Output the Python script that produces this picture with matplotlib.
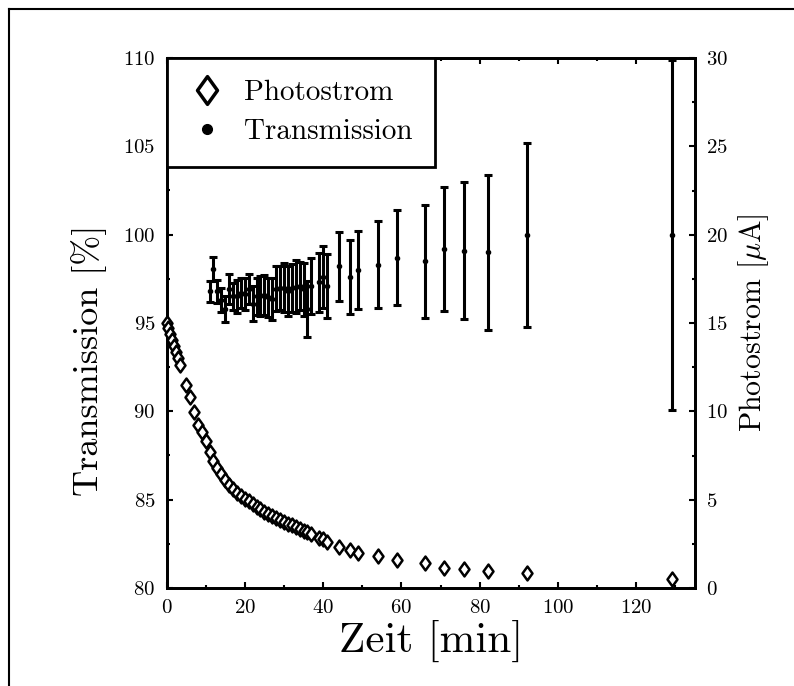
import matplotlib
matplotlib.use("Agg")
import matplotlib.pyplot as plt
from matplotlib.lines import Line2D
from matplotlib.path import Path
from matplotlib.ticker import MultipleLocator

plt.rcParams['font.family'] = 'serif'
plt.rcParams['font.serif'] = ['cmr10', 'DejaVu Serif']
plt.rcParams['mathtext.fontset'] = 'cm'
plt.rcParams['axes.unicode_minus'] = False
plt.rcParams['axes.formatter.use_mathtext'] = True

# Photostrom (diamonds, right axis, uA)
t_photo = [0, 0.5, 1, 1.5, 2, 2.5, 3, 3.5, 5, 6, 7, 8, 9, 10,
           11, 12, 13, 14, 15, 16, 17, 18, 19, 20, 21, 22, 23, 24, 25, 26,
           27, 28, 29, 30, 31, 32, 33, 34, 35, 36, 37, 39, 40, 41,
           44, 47, 49, 54, 59, 66, 71, 76, 82, 92, 129]
photostrom = [15.0, 14.7, 14.4, 14.05, 13.7, 13.35, 13.0, 12.6, 11.5, 10.8, 9.95, 9.25, 8.85, 8.3,
              7.7, 7.2, 6.8, 6.45, 6.1, 5.85, 5.6, 5.4, 5.2, 5.05, 4.9, 4.75, 4.6, 4.45, 4.3, 4.2,
              4.05, 3.95, 3.85, 3.75, 3.65, 3.55, 3.45, 3.35, 3.25, 3.15, 3.05, 2.85, 2.75, 2.6,
              2.3, 2.15, 2.0, 1.8, 1.6, 1.4, 1.15, 1.08, 0.97, 0.85, 0.5]

# Transmission (dots with error bars, left axis, %)
t_trans = [11, 12, 13, 14, 15, 16, 17, 18, 19, 20, 21, 22, 23, 24, 25, 26,
           27, 28, 29, 30, 31, 32, 33, 34, 35, 36, 37, 39, 40, 41,
           44, 47, 49, 54, 59, 66, 71, 76, 82, 92, 129]
transmission = [96.8, 98.05, 96.8, 96.3, 95.8, 96.9, 96.5, 96.5, 96.7, 96.65, 96.9, 96.1, 96.5, 96.55, 96.6, 96.45,
                96.35, 96.95, 97.0, 97.0, 96.8, 97.0, 97.05, 97.1, 96.9, 95.8, 97.1, 97.3, 97.6, 97.1,
                98.2, 97.6, 98.0, 98.3, 98.7, 98.5, 99.2, 99.1, 99.0, 100.0, 100.0]
trans_err = [0.6, 0.67, 0.66, 0.66, 0.75, 0.85, 0.74, 0.96, 0.84, 0.91, 0.85, 0.98, 1.07, 1.13, 1.12, 1.12,
             1.2, 1.27, 1.25, 1.4, 1.4, 1.35, 1.49, 1.35, 1.48, 1.58, 1.6, 1.65, 1.75, 1.8,
             1.95, 2.1, 2.2, 2.45, 2.7, 3.2, 3.5, 3.9, 4.4, 5.2, 9.9]

diamond = Path([(0, 1), (0.72, 0), (0, -1), (-0.72, 0), (0, 1)],
               [Path.MOVETO, Path.LINETO, Path.LINETO, Path.LINETO, Path.CLOSEPOLY])

fig = plt.figure(figsize=(7.94, 6.86), dpi=100)
ax = fig.add_axes([166.5 / 794, 1 - 588 / 686, (695 - 166.5) / 794, (588 - 58) / 686])
ax2 = ax.twinx()

ax.errorbar(t_trans, transmission, yerr=trans_err, fmt='o', color='black', ms=3,
            elinewidth=2.2, capsize=3, capthick=2.2, clip_on=False, zorder=3)
ax2.plot(t_photo, photostrom, ls='none', marker=diamond, ms=10, mfc='white',
         mec='black', mew=1.8, clip_on=False, zorder=3)

ax.set_xlim(0, 135)
ax.set_ylim(80, 110)
ax2.set_ylim(0, 30)

ax.xaxis.set_major_locator(MultipleLocator(20))
ax.xaxis.set_minor_locator(MultipleLocator(10))
ax.yaxis.set_major_locator(MultipleLocator(5))
ax.yaxis.set_minor_locator(MultipleLocator(2.5))
ax2.yaxis.set_major_locator(MultipleLocator(5))
ax2.yaxis.set_minor_locator(MultipleLocator(2.5))

for a in (ax, ax2):
    for s in a.spines.values():
        s.set_linewidth(2)
    a.tick_params(which='both', direction='in', width=1.5, labelsize=15, pad=8)
    a.tick_params(which='major', length=4)
    a.tick_params(which='minor', length=2.5)
ax.tick_params(axis='y', right=False, which='both')
ax.tick_params(axis='x', top=True, which='both')

ax.set_xlabel('Zeit [min]', fontsize=31, labelpad=2)
ax.set_ylabel('Transmission [%]', fontsize=26)
ax.yaxis.set_label_coords(-0.113, 0.43)
ax2.set_ylabel(r'Photostrom [$\mu$A]', fontsize=21.5, labelpad=6)

handles = [Line2D([], [], ls='none', marker=diamond, ms=20, mfc='white', mec='black', mew=2.5),
           Line2D([], [], ls='none', marker='o', ms=7, color='black')]
leg = ax2.legend(handles, ['Photostrom', 'Transmission'], loc='upper left',
                 borderaxespad=0, fontsize=21, fancybox=False, framealpha=1,
                 handlelength=1.3, handletextpad=0.62, borderpad=0.75, labelspacing=0.42)
leg.get_frame().set_edgecolor('black')
leg.get_frame().set_linewidth(2)
leg.set_zorder(10)

# outer frame (top and left edges visible)
fig.add_artist(Line2D([9 / 794, 1], [1 - 9 / 686, 1 - 9 / 686], color='black', lw=1.5))
fig.add_artist(Line2D([9 / 794, 9 / 794], [0, 1 - 9 / 686], color='black', lw=1.5))

fig.savefig('out.png', dpi=100)
